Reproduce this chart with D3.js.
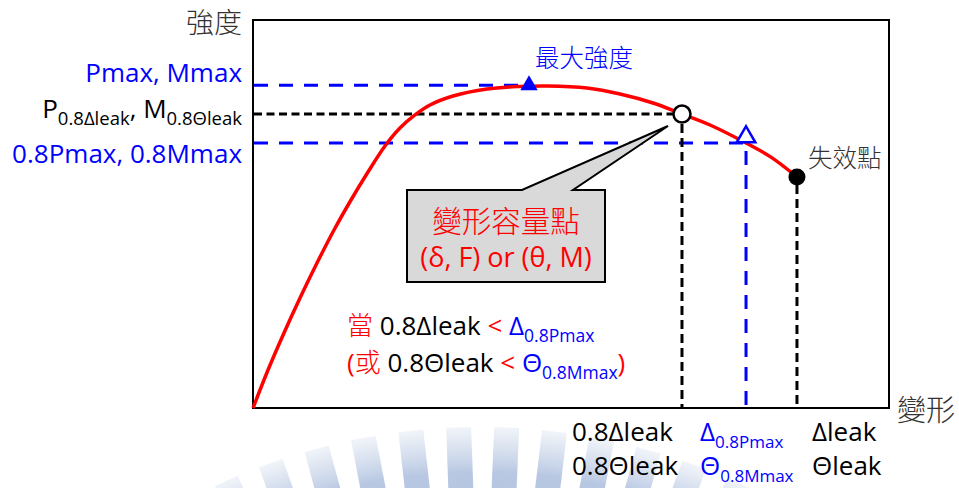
<!DOCTYPE html>
<html><head><meta charset="utf-8">
<script src="https://cdn.jsdelivr.net/npm/d3@7"></script>
<style>html,body{margin:0;padding:0;background:#fff;} svg{display:block}</style>
</head><body>
<svg id="c" width="959" height="488"></svg>
<script>
// ---- data (deformation %, strength %) ----
const deformation = [0, 2.36, 4.87, 7.39, 10.06, 12.74, 15.41, 18.08, 20.75, 23.11, 25.47, 27.83, 31.45, 36.79, 41.98, 46.23, 52.52, 57.70, 62.89, 67.45, 71.86, 77.52, 81.5, 85.53];
const strength    = [0, 9.79, 19.33, 28.35, 37.37, 45.88, 53.61, 60.82, 67.53, 72.16, 75.52, 78.09, 80.41, 82.22, 82.86, 82.99, 82.47, 80.93, 78.61, 75.77, 72.94, 68.30, 64.6, 59.54];
const keyNames    = ["peak", "capacity", "post80", "failure"];
const keyDeform   = [43.4, 67.45, 77.52, 85.53];
const keyStrength = [83.2, 75.77, 68.30, 59.54];
const yTickLabels = ["Pmax, Mmax", "P_{0.8Δleak}, M_{0.8Θleak}", "0.8Pmax, 0.8Mmax"];
const xTickRow1   = ["0.8Δleak", "Δ_{0.8Pmax}", "Δleak"];
const xTickRow2   = ["0.8Θleak", "Θ_{0.8Mmax}", "Θleak"];

const W = 959, H = 488;
const svg = d3.select("#c");
const LATIN = "'Open Sans','Noto Sans CJK TC',sans-serif";
const CJK = "'Noto Sans CJK TC','Noto Sans CJK SC',sans-serif";
const BLUE = "#0000ff", RED = "#ff0000";

// ---- watermark (decorative sunburst) ----
const grad = svg.append("defs").append("linearGradient").attr("id","wm").attr("x1",0).attr("y1",0).attr("x2",0).attr("y2",1);
grad.append("stop").attr("offset","0%").attr("stop-color","#b8c8e2").attr("stop-opacity",0.2);
grad.append("stop").attr("offset","35%").attr("stop-color","#a6badb").attr("stop-opacity",0.8);
grad.append("stop").attr("offset","100%").attr("stop-color","#a6badb").attr("stop-opacity",0.92);
const wm = svg.append("g");
const wcx = 480, wcy = 1052, wR = 625;
d3.range(-24, 25, 4.4).forEach(a => {
  wm.append("rect")
    .attr("x", -12).attr("y", -wR).attr("width", 25).attr("height", 130)
    .attr("fill", "url(#wm)")
    .attr("transform", `translate(${wcx},${wcy}) rotate(${a})`);
});

// ---- scales ----
const x = d3.scaleLinear().domain([0, 100]).range([253, 889]);
const y = d3.scaleLinear().domain([0, 100]).range([408, 20]);

// frame
svg.append("rect").attr("x", x(0)).attr("y", y(100)).attr("width", x(100)-x(0)).attr("height", y(0)-y(100))
  .attr("fill", "none").attr("stroke", "#000").attr("stroke-width", 2);

// ---- guide lines ----
function hline(i, color, dash, x2) {
  svg.append("line").attr("x1", x(0)+1).attr("x2", x2 !== undefined ? x2 : x(keyDeform[i]))
    .attr("y1", y(keyStrength[i])).attr("y2", y(keyStrength[i]))
    .attr("stroke", color).attr("stroke-width", 3).attr("stroke-dasharray", dash);
}
function vline(i, color, dash, yTop) {
  svg.append("line").attr("x1", x(keyDeform[i])).attr("x2", x(keyDeform[i]))
    .attr("y1", yTop).attr("y2", y(0)-1)
    .attr("stroke", color).attr("stroke-width", 3).attr("stroke-dasharray", dash);
}
hline(0, BLUE, "14,11", x(keyDeform[0]) - 8);
hline(1, "#000", "8,4.5");
hline(2, BLUE, "14,11");
vline(1, "#000", "9,5", y(keyStrength[1]) + 10);
vline(2, BLUE, "14,10", y(keyStrength[2]) + 8);
vline(3, "#000", "9,5", y(keyStrength[3]) + 8);

// ---- curve ----
const line = d3.line().x(d => x(d[0])).y(d => y(d[1])).curve(d3.curveCatmullRom.alpha(0.5));
svg.append("path").datum(deformation.map((d, i) => [d, strength[i]]))
  .attr("d", line).attr("fill", "none").attr("stroke", RED).attr("stroke-width", 3.5);

// ---- markers ----
svg.append("path").attr("d", d3.symbol().type(d3.symbolTriangle).size(130)).attr("fill", BLUE)
  .attr("transform", `translate(${x(keyDeform[0])},${y(keyStrength[0])})`);
svg.append("circle").attr("cx", x(keyDeform[1])).attr("cy", y(keyStrength[1])).attr("r", 8.5)
  .attr("fill", "#fff").attr("stroke", "#000").attr("stroke-width", 2.5);
svg.append("path").attr("d", d3.symbol().type(d3.symbolTriangle).size(150)).attr("fill", "#fff")
  .attr("stroke", BLUE).attr("stroke-width", 2.5)
  .attr("transform", `translate(${x(keyDeform[2])},${y(keyStrength[2]) - 6})`);
svg.append("circle").attr("cx", x(keyDeform[3])).attr("cy", y(keyStrength[3])).attr("r", 8.5).attr("fill", "#000");

// ---- rich text helper: "A_{sub}" ----
function rich(g, str, px, py, size, color, anchor, subSize) {
  const t = g.append("text").attr("x", px).attr("y", py).attr("font-family", LATIN)
    .attr("font-size", size).attr("fill", color).attr("text-anchor", anchor || "start");
  const parts = str.split(/(_\{[^}]*\})/).filter(s => s.length);
  let shifted = false;
  const sh = size * 0.27;
  parts.forEach(p => {
    if (p.startsWith("_{")) {
      t.append("tspan").attr("font-size", subSize).attr("dy", sh).text(p.slice(2, -1));
      shifted = true;
    } else {
      const s = t.append("tspan").text(p);
      if (shifted) { s.attr("dy", -sh); shifted = false; }
    }
  });
  return t;
}

// y labels
const yLabelColors = [BLUE, "#000", BLUE];
const yLabelBase = [82, 118, 163];
yTickLabels.forEach((s, i) => {
  rich(svg, s, 242, yLabelBase[i], 26, yLabelColors[i], "end", 18.5);
});
svg.append("text").attr("x", 242).attr("y", 33).attr("text-anchor", "end").attr("font-family", CJK)
  .attr("font-weight", 300).attr("font-size", 28).attr("fill", "#333").text("強度");
svg.append("text").attr("x", 897).attr("y", 421).attr("font-family", CJK)
  .attr("font-weight", 300).attr("font-size", 29).attr("fill", "#333").text("變形");

// x labels
const xLabelX = [572, 700, 812];
const xColors = ["#000", BLUE, "#000"];
xTickRow1.forEach((s, i) => rich(svg, s, xLabelX[i], 441, 26, xColors[i], "start", 17));
xTickRow2.forEach((s, i) => rich(svg, s, xLabelX[i], 475, 26, xColors[i], "start", 17));

// point annotations
svg.append("text").attr("x", 535).attr("y", 67).attr("font-family", CJK).attr("font-weight", 300)
  .attr("font-size", 24.5).attr("fill", BLUE).text("最大強度");
svg.append("text").attr("x", 808).attr("y", 167).attr("font-family", CJK).attr("font-weight", 300)
  .attr("font-size", 24.5).attr("fill", "#333").text("失效點");

// callout
const cb = {x0: 407, y0: 190, x1: 605, y1: 282};
svg.append("path").attr("d",
  `M${cb.x0},${cb.y0} L522,${cb.y0} L668,126 L573,${cb.y0} L${cb.x1},${cb.y0} L${cb.x1},${cb.y1} L${cb.x0},${cb.y1} Z`)
  .attr("fill", "#d9d9d9").attr("stroke", "#000").attr("stroke-width", 2).attr("stroke-linejoin", "miter");
svg.append("text").attr("x", 506).attr("y", 232).attr("text-anchor", "middle").attr("font-family", CJK)
  .attr("font-weight", 300).attr("font-size", 29.5).attr("fill", RED).text("變形容量點");
svg.append("text").attr("x", 506).attr("y", 267).attr("text-anchor", "middle").attr("font-family", LATIN)
  .attr("font-size", 27).attr("fill", RED).text("(δ, F) or (θ, M)");

// condition text
function condLine(py, segs) {
  const t = svg.append("text").attr("x", 347).attr("y", py).attr("font-family", LATIN).attr("font-size", 26);
  segs.forEach(s => {
    const ts = t.append("tspan").attr("fill", s.c).text(s.t);
    if (s.cjk) ts.attr("font-family", CJK).attr("font-weight", 300).attr("font-size", 26);
    if (s.sub) ts.attr("font-size", 17.5).attr("dy", 7);
    if (s.unsub) ts.attr("dy", -7);
  });
}
condLine(335, [
  {t: "當", c: RED, cjk: true}, {t: " 0.8Δleak", c: "#000"}, {t: " < ", c: RED},
  {t: "Δ", c: BLUE}, {t: "0.8Pmax", c: BLUE, sub: true}]);
condLine(372, [
  {t: "(", c: RED}, {t: "或", c: RED, cjk: true}, {t: " 0.8Θleak", c: "#000"}, {t: " < ", c: RED},
  {t: "Θ", c: BLUE}, {t: "0.8Mmax", c: BLUE, sub: true}, {t: ")", c: RED, unsub: true}]);
</script>
</body></html>
